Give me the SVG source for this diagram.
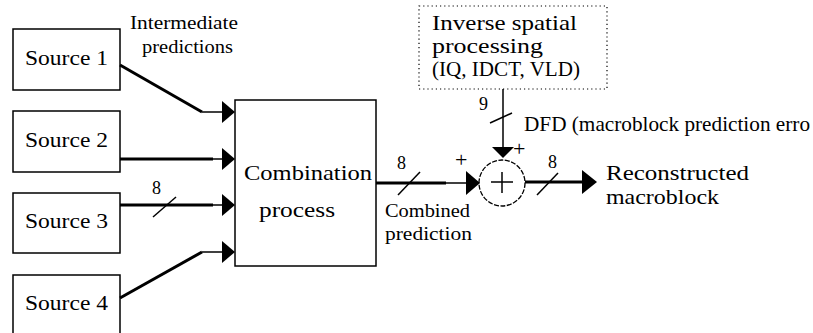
<svg xmlns="http://www.w3.org/2000/svg" width="813" height="333" viewBox="0 0 813 333">
<defs>
<style>
text{font-family:'Liberation Serif','DejaVu Serif','Times New Roman',Times,serif;fill:#000}
.big{font-size:21px}
.sm{font-size:18px}
.num{font-size:18px}
.pl{font-size:22px}
.box{fill:#fff;stroke:#000;stroke-width:1.5}
.dot{fill:#fff;stroke:#000;stroke-width:1.2;stroke-dasharray:1.2 3}
.thick{stroke:#000;stroke-width:3;fill:none}
.thin{stroke:#000;stroke-width:1.5;fill:none}
.head{fill:#000;stroke:none}
</style>
</defs>
<rect width="813" height="333" fill="#fff"/>

<g id="source1"><rect class="box" x="13" y="29" width="107" height="61"/><text class="big" x="25" y="65" textLength="83" lengthAdjust="spacingAndGlyphs">Source 1</text></g>
<g id="source2"><rect class="box" x="13" y="111" width="107" height="61"/><text class="big" x="25" y="147" textLength="83" lengthAdjust="spacingAndGlyphs">Source 2</text></g>
<g id="source3"><rect class="box" x="13" y="193" width="107" height="60"/><text class="big" x="25" y="228" textLength="83" lengthAdjust="spacingAndGlyphs">Source 3</text></g>
<g id="source4"><rect class="box" x="13" y="275" width="107" height="70"/><text class="big" x="25" y="310" textLength="83" lengthAdjust="spacingAndGlyphs">Source 4</text></g>

<g id="combination"><rect class="box" x="235" y="100" width="141" height="166"/>
<text class="big" x="244" y="180" textLength="128" lengthAdjust="spacingAndGlyphs">Combination</text>
<text class="big" x="259" y="217" textLength="76" lengthAdjust="spacingAndGlyphs">process</text></g>

<g id="inverse"><rect class="dot" x="419" y="6" width="188" height="83"/>
<text class="big" x="432" y="30" textLength="145" lengthAdjust="spacingAndGlyphs">Inverse spatial</text>
<text class="big" x="432" y="53" textLength="111" lengthAdjust="spacingAndGlyphs">processing</text>
<text class="big" x="432" y="76" textLength="148" lengthAdjust="spacingAndGlyphs">(IQ, IDCT, VLD)</text></g>

<g id="adder"><circle cx="502" cy="183" r="23" fill="#fff" stroke="#000" stroke-width="1.3" stroke-dasharray="5 1.5"/>
<line class="thin" x1="491" y1="182" x2="513" y2="182"/><line class="thin" x1="502" y1="172" x2="502" y2="193"/></g>

<g id="connectors">
<polyline class="thick" points="120,65 202,112"/><line class="thin" x1="202" y1="112" x2="224" y2="112"/>
<polygon class="head" points="222,101 235,112 222,123"/>
<line class="thick" x1="120" y1="159" x2="213" y2="159"/><line class="thin" x1="213" y1="159" x2="224" y2="159"/>
<polygon class="head" points="222,148 235,159 222,170"/>
<line class="thick" x1="120" y1="205" x2="213" y2="205"/><line class="thin" x1="213" y1="205" x2="224" y2="205"/>
<polygon class="head" points="222,194 235,205 222,216"/>
<line class="thin" x1="153" y1="217" x2="176" y2="197"/>
<text class="num" x="152" y="194">8</text>
<line class="thick" x1="120" y1="298" x2="202" y2="252" stroke-width="2.5"/><line class="thin" x1="202" y1="252" x2="224" y2="252"/>
<polygon class="head" points="222,241 235,252 222,263"/>

<line class="thick" x1="376" y1="183" x2="446" y2="183"/><line class="thin" x1="446" y1="183" x2="468" y2="183"/>
<polygon class="head" points="466,171 480,183 466,195"/>
<line class="thin" x1="398" y1="195" x2="420" y2="172"/>
<text class="num" x="397" y="169">8</text>
<text class="pl" x="455" y="167">+</text>

<line class="thin" x1="503" y1="89" x2="503" y2="149"/>
<polygon class="head" points="492,147 514,147 503,158"/>
<line class="thin" x1="490" y1="123" x2="512" y2="113"/>
<text class="num" x="479" y="110">9</text>
<text class="pl" x="513" y="156">+</text>

<line class="thick" x1="525" y1="182" x2="584" y2="182"/>
<polygon class="head" points="582,170 597,182 582,194"/>
<line class="thin" x1="537" y1="195" x2="558" y2="173"/>
<text class="num" x="548" y="168">8</text>
</g>

<g id="labels">
<text class="sm" x="130" y="29" textLength="108" lengthAdjust="spacingAndGlyphs">Intermediate</text>
<text class="sm" x="142" y="53" textLength="91" lengthAdjust="spacingAndGlyphs">predictions</text>
<text class="sm" x="385" y="217" textLength="85" lengthAdjust="spacingAndGlyphs">Combined</text>
<text class="sm" x="385" y="240" textLength="87" lengthAdjust="spacingAndGlyphs">prediction</text>
<text class="big" x="524" y="131" textLength="286" lengthAdjust="spacingAndGlyphs">DFD (macroblock prediction erro</text>
<text class="big" x="606" y="180" textLength="143" lengthAdjust="spacingAndGlyphs">Reconstructed</text>
<text class="big" x="606" y="204" textLength="113" lengthAdjust="spacingAndGlyphs">macroblock</text>
</g>
</svg>
